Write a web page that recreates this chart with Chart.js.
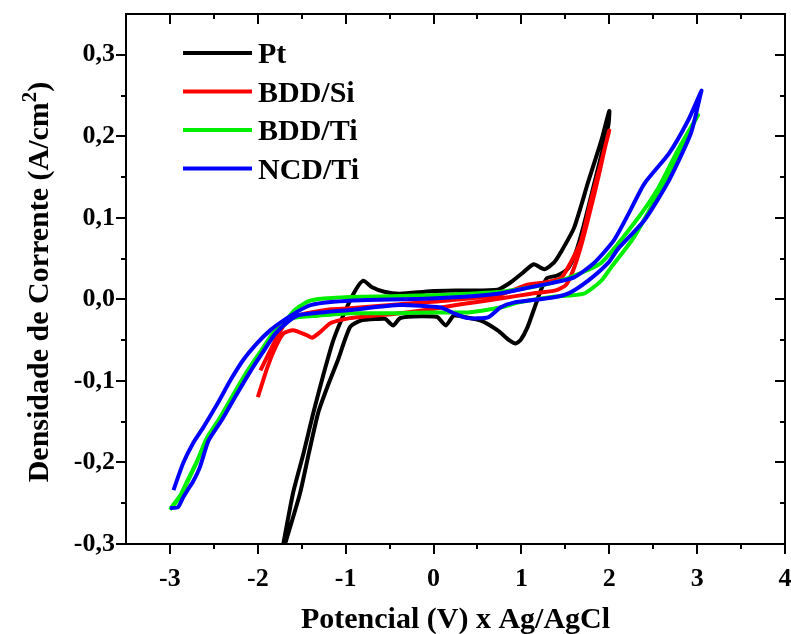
<!DOCTYPE html>
<html lang="pt">
<head>
  <meta charset="UTF-8" />
  <title>Voltametria - Pt, BDD/Si, BDD/Ti, NCD/Ti</title>
  <script src="https://cdn.jsdelivr.net/npm/chart.js"></script>
  <style>
    html, body { margin: 0; padding: 0; background: #fff; }
    canvas { display: block; }
  </style>
</head>
<body>
  <canvas id="cv" width="791" height="634"></canvas>

  <script>
    // potential (V vs Ag/AgCl) and current density (A/cm2), one loop per electrode
    const ptV = [-1.71, -1.60, -1.48, -1.37, -1.25, -1.14, -1.00, -0.89, -0.80, -0.70, -0.55, -0.38, -0.03, 0.34, 0.73, 0.88, 1.02, 1.14, 1.26, 1.37, 1.45, 1.60, 1.76, 1.91, 2.00,
      1.99, 1.91, 1.81, 1.71, 1.62, 1.53, 1.40, 1.29, 1.22, 1.16, 1.07, 0.99, 0.935, 0.86, 0.73, 0.54, 0.37, 0.23, 0.14, 0.05, 0.00, -0.23, -0.38, -0.46, -0.55, -0.64, -0.83, -0.95, -1.09, -1.20, -1.31, -1.42, -1.52, -1.69];
    const ptJ = [-0.300, -0.238, -0.189, -0.140, -0.091, -0.050, -0.013, 0.011, 0.023, 0.015, 0.009, 0.007, 0.010, 0.011, 0.012, 0.021, 0.033, 0.043, 0.037, 0.045, 0.058, 0.088, 0.144, 0.195, 0.231,
      0.214, 0.177, 0.134, 0.091, 0.058, 0.038, 0.029, 0.026, 0.011, -0.007, -0.034, -0.050, -0.054, -0.050, -0.038, -0.026, -0.022, -0.020, -0.032, -0.022, -0.021, -0.021, -0.023, -0.032, -0.024, -0.024, -0.026, -0.034, -0.075, -0.105, -0.138, -0.189, -0.238, -0.300];

    const bddSiV = [-1.97, -1.86, -1.74, -1.63, -1.44, -1.17, -0.95, -0.38, 0.19, 0.76, 1.07, 1.28, 1.45, 1.56, 1.68, 1.79, 1.905, 2.00,
      1.97, 1.88, 1.77, 1.68, 1.59, 1.51, 1.39, 1.11, 0.76, 0.31, -0.03, -0.38, -0.95, -1.17, -1.29, -1.38, -1.44, -1.60, -1.71, -1.80, -1.89, -2.00];
    const bddSiJ = [-0.087, -0.063, -0.038, -0.023, -0.017, -0.012, -0.011, -0.006, -0.001, 0.006, 0.018, 0.021, 0.026, 0.045, 0.072, 0.121, 0.167, 0.207,
      0.195, 0.152, 0.103, 0.066, 0.036, 0.018, 0.011, 0.007, 0.001, -0.006, -0.012, -0.017, -0.023, -0.029, -0.040, -0.047, -0.044, -0.038, -0.042, -0.059, -0.083, -0.120];

    const bddTiV = [-3.00, -2.89, -2.81, -2.70, -2.59, -2.44, -2.29, -2.13, -1.98, -1.83, -1.68, -1.58, -1.42, -1.25, -0.95, -0.03, 0.73, 1.11, 1.34, 1.60, 1.91, 2.28, 2.56, 2.78, 3.01,
      2.98, 2.82, 2.56, 2.28, 2.02, 1.91, 1.71, 1.34, 0.96, 0.76, 0.39, -0.03, -0.41, -0.95, -1.32, -1.60, -1.78, -1.97, -2.12, -2.28, -2.43, -2.58, -2.69, -2.80, -2.88, -2.99];
    const bddTiJ = [-0.258, -0.243, -0.226, -0.201, -0.173, -0.148, -0.120, -0.091, -0.066, -0.042, -0.026, -0.013, -0.002, 0.001, 0.003, 0.005, 0.009, 0.015, 0.020, 0.029, 0.045, 0.093, 0.137, 0.183, 0.226,
      0.220, 0.183, 0.130, 0.076, 0.039, 0.023, 0.007, 0.003, -0.004, -0.010, -0.016, -0.016, -0.017, -0.017, -0.020, -0.023, -0.036, -0.064, -0.088, -0.117, -0.145, -0.170, -0.198, -0.222, -0.240, -0.256];

    const ncdTiV = [-2.96, -2.85, -2.74, -2.62, -2.46, -2.31, -2.17, -2.01, -1.86, -1.71, -1.55, -1.40, -1.14, -0.83, -0.03, 0.73, 1.11, 1.34, 1.60, 1.83, 2.05, 2.21, 2.40, 2.68, 2.90, 3.05,
      3.04, 2.93, 2.68, 2.40, 2.10, 1.99, 1.76, 1.53, 1.34, 0.91, 0.76, 0.62, 0.39, 0.23, 0.08, -0.38, -0.95, -1.52, -1.64, -1.80, -1.95, -2.10, -2.26, -2.41, -2.56, -2.66, -2.74, -2.80, -2.85, -2.91, -3.00];
    const ncdTiJ = [-0.234, -0.201, -0.177, -0.157, -0.128, -0.099, -0.075, -0.054, -0.038, -0.026, -0.015, -0.007, -0.003, -0.001, 0.001, 0.007, 0.015, 0.020, 0.027, 0.045, 0.072, 0.103, 0.142, 0.179, 0.220, 0.256,
      0.252, 0.204, 0.146, 0.097, 0.062, 0.045, 0.023, 0.007, 0.002, -0.004, -0.010, -0.022, -0.023, -0.017, -0.010, -0.007, -0.013, -0.019, -0.026, -0.042, -0.066, -0.091, -0.120, -0.148, -0.173, -0.206, -0.224, -0.234, -0.243, -0.255, -0.256];

    const seriesNames = ['Pt', 'BDD/Si', 'BDD/Ti', 'NCD/Ti'];
    const seriesColors = ['#000000', '#ff0000', '#00ee00', '#0000ff'];

    const xTicks = [-3, -2, -1, 0, 1, 2, 3, 4];
    const xTickLabels = ['-3', '-2', '-1', '0', '1', '2', '3', '4'];
    const yTicks = [-0.3, -0.2, -0.1, 0.0, 0.1, 0.2, 0.3];
    const yTickLabels = ['-0,3', '-0,2', '-0,1', '0,0', '0,1', '0,2', '0,3'];

    const SERIF = "'Liberation Serif', 'Times New Roman', serif";

    function toPoints(xs, ys) {
      return xs.map((v, i) => ({ x: v, y: ys[i] }));
    }

    const loops = [[ptV, ptJ], [bddSiV, bddSiJ], [bddTiV, bddTiJ], [ncdTiV, ncdTiJ]];

    // frame with mirrored ticks, axis titles and the legend
    const decorations = {
      id: 'decorations',
      afterDraw(chart) {
        const { ctx, chartArea: a, scales: { x, y } } = chart;
        ctx.save();
        ctx.strokeStyle = '#000';
        ctx.lineWidth = 2;
        ctx.strokeRect(a.left, a.top, a.right - a.left, a.bottom - a.top);

        ctx.beginPath();
        const xMinor = [];
        for (let i = 0; i < xTicks.length - 1; i++) xMinor.push((xTicks[i] + xTicks[i + 1]) / 2);
        xTicks.forEach(v => {
          const px = Math.round(x.getPixelForValue(v));
          ctx.moveTo(px, a.bottom); ctx.lineTo(px, a.bottom + 10);
          ctx.moveTo(px, a.top); ctx.lineTo(px, a.top + 10);
        });
        xMinor.forEach(v => {
          const px = Math.round(x.getPixelForValue(v));
          ctx.moveTo(px, a.bottom); ctx.lineTo(px, a.bottom + 5);
          ctx.moveTo(px, a.top); ctx.lineTo(px, a.top + 5);
        });
        const yMinor = [];
        for (let i = 0; i < yTicks.length - 1; i++) yMinor.push((yTicks[i] + yTicks[i + 1]) / 2);
        yTicks.forEach(v => {
          const py = Math.round(y.getPixelForValue(v));
          ctx.moveTo(a.left - 10, py); ctx.lineTo(a.left, py);
          ctx.moveTo(a.right - 10, py); ctx.lineTo(a.right, py);
        });
        yMinor.forEach(v => {
          const py = Math.round(y.getPixelForValue(v));
          ctx.moveTo(a.left - 5, py); ctx.lineTo(a.left, py);
          ctx.moveTo(a.right - 5, py); ctx.lineTo(a.right, py);
        });
        ctx.stroke();

        ctx.fillStyle = '#000';

        // x title
        ctx.font = 'bold 30px ' + SERIF;
        ctx.textAlign = 'center';
        ctx.textBaseline = 'alphabetic';
        ctx.fillText('Potencial (V) x Ag/AgCl', (a.left + a.right) / 2, 628);

        // y title, with a raised 2
        const main = 'Densidade de Corrente (A/cm';
        const sup = '2';
        const tail = ')';
        ctx.save();
        ctx.translate(48, (a.top + a.bottom) / 2 + 3);
        ctx.rotate(-Math.PI / 2);
        ctx.textAlign = 'left';
        ctx.font = 'bold 30px ' + SERIF;
        const wMain = ctx.measureText(main).width;
        const wTail = ctx.measureText(tail).width;
        ctx.font = 'bold 21px ' + SERIF;
        const wSup = ctx.measureText(sup).width;
        let cx = -(wMain + wSup + wTail) / 2;
        ctx.font = 'bold 30px ' + SERIF;
        ctx.fillText(main, cx, 0);
        cx += wMain;
        ctx.font = 'bold 21px ' + SERIF;
        ctx.fillText(sup, cx, -12);
        cx += wSup;
        ctx.font = 'bold 30px ' + SERIF;
        ctx.fillText(tail, cx, 0);
        ctx.restore();

        // legend
        ctx.font = 'bold 30px ' + SERIF;
        ctx.textAlign = 'left';
        chart.data.datasets.forEach((ds, i) => {
          const ly = 53 + i * 38.5;
          ctx.strokeStyle = ds.borderColor;
          ctx.lineWidth = 4;
          ctx.beginPath();
          ctx.moveTo(183, ly);
          ctx.lineTo(252, ly);
          ctx.stroke();
          ctx.fillText(ds.label, 258, ly + 10);
        });
        ctx.restore();
      }
    };

    new Chart(document.getElementById('cv'), {
      type: 'scatter',
      data: {
        datasets: loops.map(([vs, js], i) => ({
          label: seriesNames[i],
          data: toPoints(vs, js),
          showLine: true,
          borderColor: seriesColors[i],
          backgroundColor: seriesColors[i],
          borderWidth: 4,
          pointRadius: 0,
          tension: 0.2,
          order: loops.length - i
        }))
      },
      options: {
        responsive: false,
        animation: false,
        devicePixelRatio: 1,
        layout: { padding: { top: 14, right: 6, left: 0, bottom: 0 } },
        plugins: {
          legend: { display: false },
          tooltip: { enabled: false }
        },
        scales: {
          x: {
            type: 'linear',
            min: -3.5,
            max: 4,
            grid: { display: false, drawTicks: false },
            border: { display: false },
            afterBuildTicks: s => { s.ticks = xTicks.map(v => ({ value: v })); },
            afterFit: s => { s.height = 90; s.paddingLeft = 0; s.paddingRight = 0; },
            ticks: {
              padding: 20,
              maxRotation: 0,
              autoSkip: false,
              color: '#000',
              font: { family: SERIF, size: 26, weight: 'bold' },
              callback: v => xTickLabels[xTicks.indexOf(v)]
            }
          },
          y: {
            type: 'linear',
            min: -0.3,
            max: 0.35,
            grid: { display: false, drawTicks: false },
            border: { display: false },
            afterBuildTicks: s => { s.ticks = yTicks.map(v => ({ value: v })); },
            afterFit: s => { s.width = 126; s.paddingTop = 0; s.paddingBottom = 0; },
            ticks: {
              padding: 11,
              autoSkip: false,
              color: '#000',
              font: { family: SERIF, size: 26, weight: 'bold' },
              callback: v => {
                const k = yTicks.findIndex(t => Math.abs(t - v) < 1e-9);
                return k >= 0 ? yTickLabels[k] : '';
              }
            }
          }
        }
      },
      plugins: [decorations]
    });
  </script>
</body>
</html>
